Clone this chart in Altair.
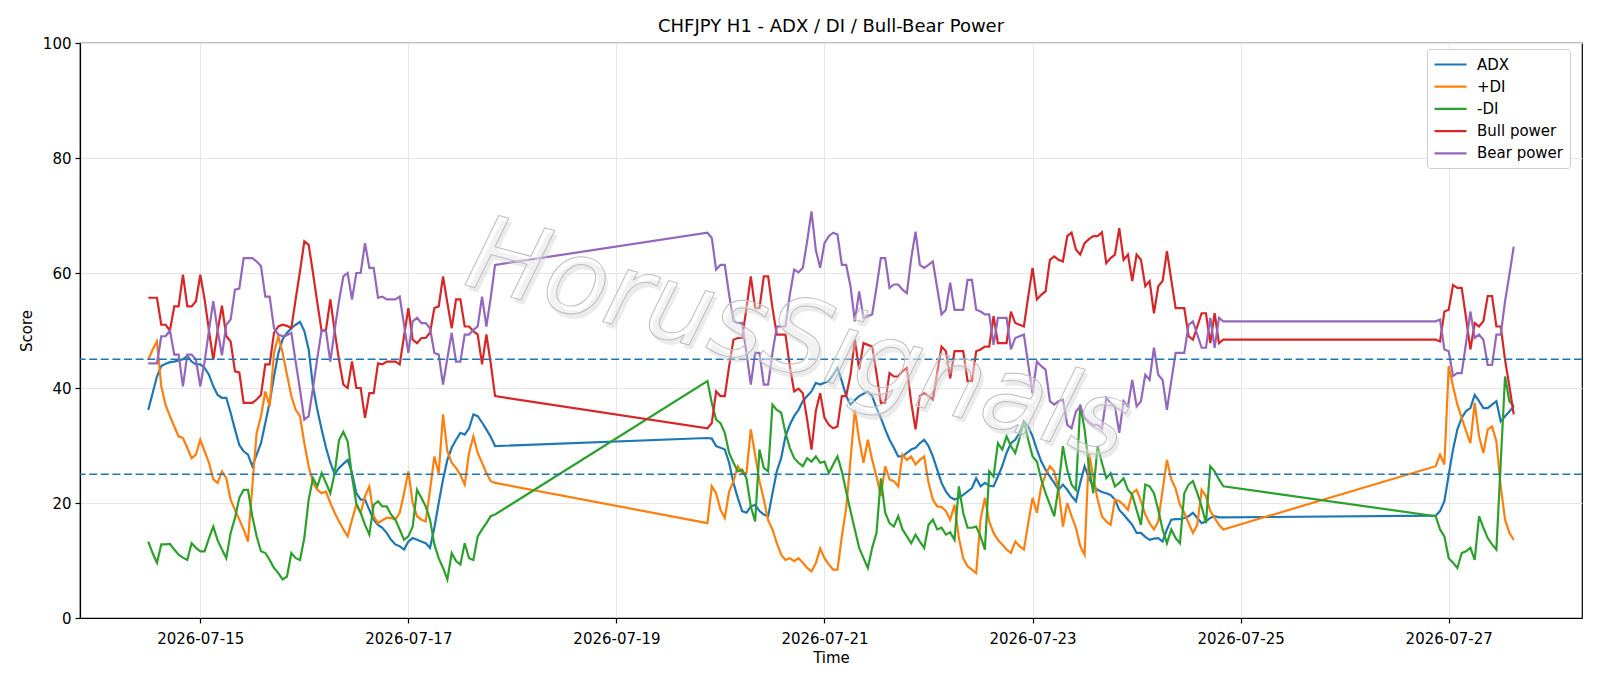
import altair as alt
import pandas as pd

TITLE = "CHFJPY H1 - ADX / DI / Bull-Bear Power"
SERIES = ["ADX", "+DI", "-DI", "Bull power", "Bear power"]
COLORS = ["#1f77b4", "#ff7f0e", "#2ca02c", "#d62728", "#9467bd"]
LEVELS = [45, 25]
X_TICKS = ["2026-07-15", "2026-07-17", "2026-07-19", "2026-07-21", "2026-07-23", "2026-07-25", "2026-07-27"]
Y_TICKS = [0, 20, 40, 60, 80, 100]
WATERMARK = "HorusSignals"

# hourly trading segments: (start, number of hourly bars)
SEGMENTS = [("2026-07-14 12:00", 81), ("2026-07-19 21:00", 120), ("2026-07-26 21:00", 19)]

ADX_1 = [36.2, 39.1, 42.0, 43.8, 44.2, 44.5, 44.6, 44.8, 45.0, 45.6,
         44.6, 44.1, 44.1, 43.5, 42.3, 40.3, 38.8, 38.3, 38.3, 35.7,
         32.8, 30.1, 29.0, 28.4, 26.4, 28.4, 30.4, 33.9, 37.5, 42.0,
         46.0, 48.5, 49.6, 50.4, 51.0, 51.5, 49.9, 46.7, 40.3, 36.2,
         32.8, 29.6, 27.0, 25.0, 26.1, 26.8, 27.5, 25.2, 21.7, 20.6,
         20.6, 18.8, 17.1, 16.2, 15.7, 14.8, 13.6, 12.8, 12.5, 11.9,
         13.3, 13.9, 13.6, 13.3, 13.0, 12.2, 15.7, 20.0, 24.1, 27.5,
         29.6, 31.0, 32.2, 31.9, 33.0, 35.4, 35.1, 34.0, 32.8, 31.5,
         29.9]
ADX_2 = [31.3, 31.2, 29.9, 29.6, 29.3, 27.0, 23.5, 20.9, 18.6, 18.3,
         19.4, 19.7, 18.6, 18.0, 17.7, 21.7, 25.5, 27.8, 31.6, 33.6,
         35.1, 36.2, 37.7, 38.6, 39.4, 40.9, 40.6, 40.9, 41.2, 42.3,
         43.5, 41.2, 38.6, 37.1, 37.9, 38.6, 39.0, 39.4, 38.6, 36.5,
         34.8, 32.8, 31.0, 29.6, 28.1, 28.1, 28.7, 29.3, 29.6, 30.4,
         31.0, 29.9, 28.1, 25.8, 23.5, 22.0, 21.0, 20.6, 20.9, 21.4,
         22.0, 22.6, 24.3, 22.9, 23.5, 23.0, 22.9, 24.6, 26.4, 28.7,
         30.4, 31.0, 32.2, 34.2, 33.3, 31.6, 29.3, 27.2, 25.8, 24.6,
         23.5, 22.3, 23.2, 22.3, 21.2, 20.3, 23.5, 26.4, 24.3, 22.9,
         22.3, 21.9, 21.7, 21.4, 20.6, 18.8, 18.0, 17.1, 16.2, 14.8,
         14.8, 14.1, 13.6, 13.8, 13.9, 13.3, 15.4, 17.1, 17.2, 17.2,
         17.4, 17.7, 18.3, 17.4, 16.5, 16.8, 17.4, 17.7, 17.5, 17.5]
ADX_3 = [17.8, 18.6, 20.3, 24.9, 29.3, 32.8, 34.8, 36.0, 36.5, 38.8,
         37.7, 36.5, 36.5, 37.1, 37.7, 34.2, 35.1, 35.9, 36.8]

PDI_1 = [44.9, 46.7, 48.1, 40.3, 37.0, 35.1, 33.3, 31.6, 31.3, 29.6,
         27.8, 28.4, 31.0, 29.0, 27.0, 24.1, 23.5, 25.5, 24.3, 20.6,
         18.8, 17.1, 15.4, 13.3, 22.9, 32.2, 35.1, 39.4, 36.8, 46.1,
         49.0, 46.1, 42.3, 38.6, 36.2, 35.1, 30.4, 26.4, 23.5, 22.3,
         21.7, 22.0, 20.0, 18.3, 16.8, 15.4, 14.2, 17.1, 19.7, 18.3,
         21.2, 22.9, 17.7, 16.5, 17.0, 17.4, 17.4, 17.1, 18.3, 21.7,
         25.5, 20.0, 17.7, 17.1, 16.8, 22.3, 28.1, 25.2, 35.4, 29.0,
         27.0, 26.1, 24.9, 23.2, 28.7, 31.6, 28.7, 27.0, 25.2, 23.8,
         23.5]
PDI_2 = [16.5, 22.9, 21.7, 18.8, 17.4, 22.0, 23.8, 26.4, 25.2, 25.2,
         32.8, 28.4, 23.8, 20.6, 17.0, 15.4, 13.0, 11.0, 10.1, 10.4,
         9.9, 10.4, 9.6, 8.7, 8.1, 9.5, 12.1, 10.4, 9.3, 8.4,
         8.4, 14.2, 19.1, 27.5, 36.2, 31.0, 27.0, 31.0, 27.5, 24.6,
         21.2, 26.4, 24.1, 23.8, 22.9, 28.4, 27.5, 28.1, 26.7, 27.5,
         28.1, 23.5, 20.6, 19.4, 19.3, 18.6, 17.1, 19.7, 13.9, 10.4,
         9.0, 8.4, 7.8, 17.1, 20.9, 16.8, 14.8, 13.6, 12.8, 11.9,
         11.3, 13.3, 12.5, 11.9, 16.5, 20.9, 18.3, 22.9, 24.9, 26.4,
         25.5, 22.3, 15.9, 20.0, 17.7, 15.7, 12.5, 11.0, 28.7, 24.6,
         20.6, 17.7, 16.8, 16.2, 20.6, 20.3, 19.7, 18.8, 21.7, 22.3,
         20.3, 18.0, 16.5, 15.4, 16.8, 22.3, 27.5, 24.1, 22.5, 19.7,
         18.3, 16.5, 14.8, 16.2, 22.3, 21.2, 18.6, 17.4, 16.2, 15.4]
PDI_3 = [26.4, 28.4, 26.7, 43.8, 40.3, 37.1, 34.8, 32.5, 30.4, 37.4,
         31.6, 28.7, 32.8, 33.3, 30.7, 22.9, 17.1, 14.8, 13.6]

MDI_1 = [13.3, 11.3, 9.6, 12.8, 12.8, 12.9, 11.9, 11.0, 10.5, 10.1,
         13.0, 12.2, 11.6, 11.6, 13.9, 15.9, 13.5, 11.9, 10.4, 14.8,
         17.4, 20.9, 22.3, 22.3, 17.7, 14.2, 11.6, 11.3, 10.1, 8.7,
         7.8, 6.7, 7.2, 11.3, 10.4, 10.1, 13.9, 20.6, 24.3, 22.9,
         25.2, 23.5, 21.7, 25.2, 30.9, 32.4, 30.7, 24.6, 19.9, 18.3,
         16.2, 14.5, 19.7, 20.3, 19.4, 19.4, 18.0, 17.1, 15.4, 13.6,
         14.2, 15.9, 22.3, 20.9, 19.4, 17.1, 12.8, 10.4, 8.7, 6.7,
         11.3, 9.9, 9.3, 13.0, 10.4, 10.1, 14.2, 15.4, 16.5, 17.7,
         18.0]
MDI_2 = [41.2, 37.4, 34.5, 33.9, 32.2, 28.7, 27.0, 25.5, 25.8, 24.3,
         19.4, 16.8, 29.3, 26.1, 25.5, 37.1, 36.2, 35.7, 32.2, 29.6,
         27.8, 27.0, 26.4, 27.8, 27.2, 28.1, 27.0, 27.2, 25.2, 26.7,
         28.1, 25.5, 22.0, 18.6, 15.4, 12.2, 10.4, 8.7, 12.2, 14.8,
         24.3, 18.3, 16.5, 15.9, 17.7, 15.4, 14.2, 13.0, 14.5, 13.3,
         12.2, 16.2, 17.1, 15.4, 15.7, 14.5, 14.9, 13.6, 22.9, 18.3,
         15.7, 15.7, 15.9, 14.2, 11.9, 25.5, 24.6, 30.4, 29.3, 31.6,
         29.9, 28.7, 31.3, 34.2, 31.0, 28.1, 27.2, 24.1, 21.7, 19.7,
         17.7, 22.9, 29.9, 25.8, 23.2, 22.3, 37.1, 32.8, 26.4, 21.7,
         29.9, 27.0, 24.3, 25.2, 22.9, 23.5, 24.3, 22.3, 21.4, 18.8,
         16.2, 23.2, 22.9, 21.7, 18.8, 15.4, 13.0, 15.4, 13.9, 13.0,
         21.7, 23.2, 23.8, 21.7, 19.4, 16.5, 26.4, 25.5, 24.1, 22.9]
MDI_3 = [17.7, 15.4, 14.2, 10.4, 9.6, 8.7, 11.3, 11.6, 12.2, 10.1,
         17.7, 15.7, 13.9, 12.8, 11.9, 27.0, 42.0, 37.7, 36.8]

BULL_1 = [55.7, 55.7, 55.7, 51.0, 51.0, 50.0, 54.2, 54.2, 59.7, 54.2,
          54.2, 55.1, 59.7, 55.4, 50.0, 44.9, 50.0, 54.3, 49.0, 48.1,
          42.9, 42.7, 37.4, 37.4, 37.4, 38.0, 38.8, 44.1, 44.1, 49.6,
          50.7, 51.0, 50.8, 50.4, 55.4, 60.3, 65.5, 64.9, 60.0, 54.8,
          49.9, 50.1, 55.4, 49.9, 44.9, 40.6, 40.0, 44.6, 40.0, 40.0,
          34.8, 39.1, 39.1, 44.3, 44.1, 44.6, 44.6, 44.6, 44.1, 49.0,
          53.9, 48.4, 47.8, 48.7, 48.7, 49.6, 53.9, 54.2, 59.4, 54.8,
          50.4, 55.4, 55.4, 50.7, 50.7, 49.9, 49.3, 44.1, 49.3, 44.3,
          38.6]
BULL_2 = [33.0, 33.9, 39.4, 38.6, 38.6, 43.8, 48.4, 48.7, 48.7, 53.9,
          59.4, 53.9, 53.9, 59.4, 59.4, 53.9, 49.3, 49.3, 49.3, 43.8,
          39.4, 39.9, 39.1, 34.5, 29.3, 36.0, 39.1, 34.8, 33.6, 33.0,
          33.3, 38.6, 38.6, 42.3, 48.4, 43.2, 47.8, 47.5, 47.2, 42.5,
          37.4, 37.4, 42.6, 42.0, 42.0, 42.9, 43.5, 37.5, 32.8, 38.6,
          39.1, 38.6, 38.0, 42.6, 47.2, 46.4, 41.7, 46.4, 46.4, 46.4,
          41.2, 41.2, 46.4, 46.7, 47.2, 47.2, 52.5, 47.8, 47.8, 47.8,
          53.3, 51.3, 51.0, 50.7, 55.9, 60.9, 55.4, 56.2, 56.8, 62.3,
          62.9, 62.3, 62.0, 66.4, 67.0, 64.1, 63.2, 65.2, 65.9, 66.4,
          66.4, 67.1, 61.7, 62.6, 63.2, 67.8, 62.3, 63.2, 58.6, 63.2,
          62.3, 57.7, 58.6, 53.0, 57.7, 58.6, 63.8, 58.8, 53.9, 53.9,
          53.9, 49.0, 48.4, 50.7, 53.0, 53.0, 47.8, 53.0, 47.8, 48.4]
BULL_3 = [48.4, 48.1, 53.3, 53.6, 57.9, 57.4, 57.4, 52.2, 46.7, 51.3,
          50.7, 51.6, 56.0, 56.0, 50.7, 50.7, 44.9, 40.3, 35.4]

BEAR_1 = [44.3, 44.3, 44.3, 49.0, 49.0, 50.0, 45.8, 45.8, 40.3, 45.8,
          45.8, 44.9, 40.3, 44.6, 50.0, 55.1, 50.0, 45.7, 51.0, 51.9,
          57.1, 57.3, 62.6, 62.6, 62.6, 62.0, 61.2, 55.9, 55.9, 50.4,
          49.3, 49.0, 49.2, 49.6, 44.6, 39.7, 34.5, 35.1, 40.0, 45.2,
          50.1, 49.9, 44.6, 50.1, 55.1, 59.4, 60.0, 55.4, 60.0, 60.0,
          65.2, 60.9, 60.9, 55.7, 55.9, 55.4, 55.4, 55.4, 55.9, 51.0,
          46.1, 51.6, 52.2, 51.3, 51.3, 50.4, 46.1, 45.8, 40.6, 45.2,
          49.6, 44.6, 44.6, 49.3, 49.3, 50.1, 50.7, 55.9, 50.7, 55.7,
          61.4]
BEAR_2 = [67.0, 66.1, 60.6, 61.4, 61.4, 56.2, 51.6, 51.3, 51.3, 46.1,
          40.6, 46.1, 46.1, 40.6, 40.6, 46.1, 50.7, 50.7, 50.7, 56.2,
          60.6, 60.1, 60.9, 65.5, 70.7, 64.0, 60.9, 65.2, 66.4, 67.0,
          66.7, 61.4, 61.4, 57.7, 51.6, 56.8, 52.2, 52.5, 52.8, 57.5,
          62.6, 62.6, 57.4, 58.0, 58.0, 57.1, 56.5, 62.5, 67.2, 61.4,
          60.9, 61.4, 62.0, 57.4, 52.8, 53.6, 58.3, 53.6, 53.6, 53.6,
          58.8, 58.8, 53.6, 53.3, 52.8, 52.8, 47.5, 52.2, 52.2, 52.2,
          46.7, 48.7, 49.0, 49.3, 44.1, 39.1, 44.6, 43.8, 43.2, 37.7,
          37.1, 37.7, 38.0, 33.6, 33.0, 35.9, 36.8, 34.8, 34.1, 33.6,
          33.6, 32.9, 38.3, 37.4, 36.8, 32.2, 37.7, 36.8, 41.4, 36.8,
          37.7, 42.3, 41.4, 47.0, 42.3, 41.4, 36.2, 41.2, 46.1, 46.1,
          46.1, 51.0, 51.6, 49.3, 47.0, 47.0, 52.2, 47.0, 52.2, 51.6]
BEAR_3 = [51.6, 51.9, 46.7, 46.4, 42.1, 42.6, 42.6, 47.8, 53.3, 48.7,
          49.3, 48.4, 44.0, 44.0, 49.3, 49.3, 55.1, 59.7, 64.6]

# ---------------------------------------------------------------------------
times = []
for start, n in SEGMENTS:
    times += [t.strftime("%Y-%m-%dT%H:%M:%SZ") for t in pd.date_range(start, periods=n, freq="h")]

values = {
    "ADX": ADX_1 + ADX_2 + ADX_3,
    "+DI": PDI_1 + PDI_2 + PDI_3,
    "-DI": MDI_1 + MDI_2 + MDI_3,
    "Bull power": BULL_1 + BULL_2 + BULL_3,
    "Bear power": BEAR_1 + BEAR_2 + BEAR_3,
}
rows = []
for s in SERIES:
    vals = values[s]
    assert len(vals) == len(times), (s, len(vals), len(times))
    for t, v in zip(times, vals):
        rows.append({"time": t, "value": v, "series": s})
df = pd.DataFrame(rows)

FONT = "DejaVu Sans"

x_scale = alt.Scale(
    type="utc",
    domain=[
        alt.DateTime(year=2026, month=7, date=13, hours=20, minutes=15, utc=True),
        alt.DateTime(year=2026, month=7, date=28, hours=6, minutes=45, utc=True),
    ],
)
x_axis = alt.Axis(
    values=[alt.DateTime(year=int(d[:4]), month=int(d[5:7]), date=int(d[8:]), utc=True) for d in X_TICKS],
    labelExpr="utcFormat(datum.value, '%Y-%m-%d')",
    labelPadding=8,
    titlePadding=4,
    labelAngle=0,
)
y_axis = alt.Axis(values=Y_TICKS, labelPadding=4, titlePadding=8)

legend = alt.Legend(
    title=None,
    orient="none",
    legendX=1347,
    legendY=6,
    symbolType="M-2,0H2",
    symbolSize=256,
    symbolOffset=8,
    symbolStrokeWidth=2.2,
    labelFontSize=15,
    labelFont=FONT,
    labelColor="black",
    strokeColor="#cccccc",
    fillColor="white",
    padding=6,
    cornerRadius=3,
    rowPadding=4.2,
    labelOffset=17,
)

lines = alt.Chart(df).mark_line(strokeWidth=2.2).encode(
    x=alt.X("time:T", scale=x_scale, axis=x_axis, title="Time"),
    y=alt.Y("value:Q", scale=alt.Scale(domain=[0, 100], nice=False), axis=y_axis, title="Score"),
    color=alt.Color("series:N", scale=alt.Scale(domain=SERIES, range=COLORS), legend=legend, sort=SERIES),
)

rules = alt.Chart(pd.DataFrame({"level": LEVELS})).mark_rule(
    color="#1f77b4", strokeDash=[8, 3.6], strokeWidth=1.7
).encode(y=alt.Y("level:Q", title="Score"))

wm_df = pd.DataFrame({"label": [WATERMARK]})
wm_shadow = alt.Chart(wm_df).mark_text(
    font=FONT, fontSize=104, fontStyle="italic", angle=15, align="center", baseline="middle",
    fill="#d4d4d4", opacity=0.45, dx=4, dy=4,
).encode(x=alt.value(718), y=alt.value(299), text="label:N")
wm_main = alt.Chart(wm_df).mark_text(
    font=FONT, fontSize=104, fontStyle="italic", angle=15, align="center", baseline="middle",
    fill="white", fillOpacity=0.3, stroke="#bdbdbd", strokeWidth=1.0,
).encode(x=alt.value(718), y=alt.value(299), text="label:N")

chart = (
    alt.layer(lines, rules, wm_shadow, wm_main)
    .properties(
        width=1502,
        height=575,
        title=alt.Title(TITLE, fontSize=18, font=FONT, fontWeight="normal", color="black", offset=0),
        autosize=alt.AutoSizeParams(type="none"),
        padding={"left": 80, "top": 43, "right": 18, "bottom": 68},
        background="white",
    )
    .configure_view(stroke="black", strokeWidth=1.2)
    .configure_axis(
        labelFont=FONT,
        labelFontSize=15,
        labelColor="black",
        titleFont=FONT,
        titleFontSize=15,
        titleFontWeight="normal",
        titleColor="black",
        domainColor="black",
        domainWidth=1.2,
        tickColor="black",
        tickWidth=1.2,
        tickSize=5,
        grid=True,
        gridColor="#e6e6e6",
        gridWidth=1,
    )
)

chart.save("out.html", embed_options={"renderer": "svg", "actions": False})
